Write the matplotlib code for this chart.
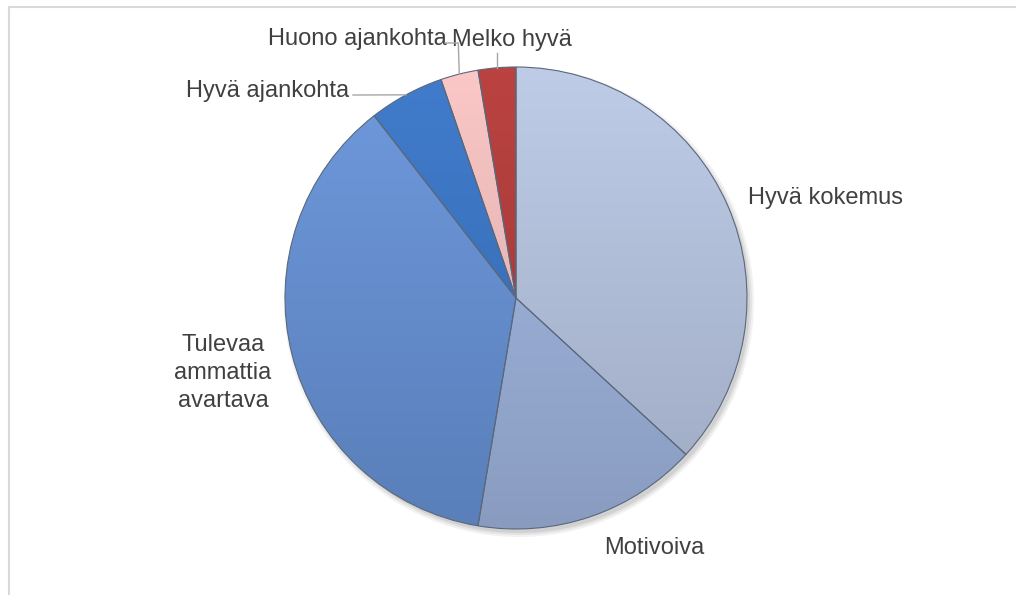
import matplotlib
matplotlib.use('Agg')
import numpy as np
import matplotlib.pyplot as plt
from matplotlib.colors import to_rgb
from matplotlib.patches import Circle

labels = ['Hyvä kokemus', 'Motivoiva', 'Tulevaa\nammattia\navartava',
          'Hyvä ajankohta', 'Huono ajankohta', 'Melko hyvä']
counts = [14, 6, 14, 2, 1, 1]
colors = ['#b4c1dc', '#9cb1da', '#6690d2', '#3a74c2', '#efbcbc', '#b03c3a']

plt.rcParams['font.family'] = ['Liberation Sans', 'DejaVu Sans']
txt_color = '#404040'
line_color = '#a6a6a6'

W, H = 1016, 595
fig = plt.figure(figsize=(W / 100, H / 100), dpi=100)
ax = fig.add_axes([0, 0, 1, 1])
cx, cy, r = 516, 297, 231

# soft shadow under the pie
for k, a in enumerate([0.05, 0.06, 0.08]):
    ax.add_patch(Circle((cx + 3, cy - 4), r + 4 - 2 * k, color='black', alpha=a, lw=0, zorder=0))

wedges, _ = ax.pie(counts, colors=colors, startangle=90, counterclock=False,
                   center=(cx, cy), radius=r, frame=True,
                   wedgeprops=dict(edgecolor='#5a687c', linewidth=0.8))

# vertical gradient fill in each wedge
grad = np.linspace(1, 0, 256).reshape(-1, 1, 1)
for w, c in zip(wedges, colors):
    base = np.array(to_rgb(c))
    top = np.clip(base * 1.03 + 0.02, 0, 1)
    bot = base * 0.88
    img = grad * top + (1 - grad) * bot
    im = ax.imshow(img, extent=(cx - r, cx + r, cy - r, cy + r), origin='upper',
                   aspect='auto', zorder=1, interpolation='bilinear')
    im.set_clip_path(w)
    w.set_facecolor('none')
    w.set_zorder(2)

# label positions (Excel-style, placed outside)
def edge_point(i, rr=r):
    tot = sum(counts)
    start = sum(counts[:i]) / tot * 360
    mid = start + counts[i] / tot * 180
    t = np.deg2rad(mid)
    return cx + rr * np.sin(t), cy + rr * np.cos(t)

fs = 17
ax.text(748, 397, labels[0], fontsize=fs, color=txt_color, ha='left', va='center')
ax.text(654, 47, labels[1], fontsize=fs, color=txt_color, ha='center', va='center')
ax.text(223, 222, labels[2], fontsize=fs, color=txt_color, ha='center', va='center',
        linespacing=1.38)
ax.text(349, 504, labels[3], fontsize=fs, color=txt_color, ha='right', va='center')
ax.text(447, 556, labels[4], fontsize=fs, color=txt_color, ha='right', va='center')
ax.text(452, 555, labels[5], fontsize=fs, color=txt_color, ha='left', va='center')

# leader lines
px, py = edge_point(3)
ax.plot([353, px], [500, py], color=line_color, lw=1, zorder=3)
px, py = edge_point(4)
ax.plot([445, px - 1, px], [552, 552, py], color=line_color, lw=1, zorder=3)
px, py = edge_point(5)
ax.plot([px, px], [542, py], color=line_color, lw=1, zorder=3)

# chart frame (cropped at right/bottom)
ax.plot([8.5, W], [H - 6.5, H - 6.5], color='#d9d9d9', lw=1.5)
ax.plot([8.5, 8.5], [0, H - 6.5], color='#d9d9d9', lw=1.5)

ax.set_xlim(0, W)
ax.set_ylim(0, H)
ax.set_aspect('equal')
ax.axis('off')

fig.savefig('out.png', dpi=100)
